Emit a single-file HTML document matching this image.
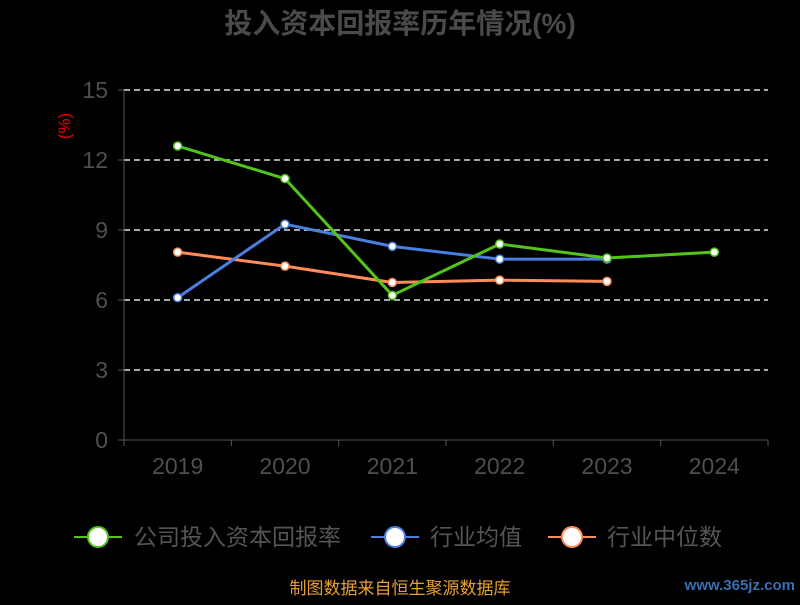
<!DOCTYPE html>
<html><head><meta charset="utf-8"><style>
body{margin:0;background:#000;width:800px;height:600px;overflow:hidden;font-family:"Liberation Sans","Noto Sans CJK SC",sans-serif}
</style></head><body>
<svg id="c" width="800" height="600" xmlns="http://www.w3.org/2000/svg">
<text x="400" y="33" text-anchor="middle" font-size="28" font-weight="bold" fill="#4a4a4a" font-family="Liberation Sans, Noto Sans CJK SC, sans-serif">投入资本回报率历年情况(%)</text>
<text transform="translate(70,126) rotate(-90)" text-anchor="middle" font-size="17" fill="#e00">(%)</text>
<g id="grid"></g><g id="axes"></g><g id="series"></g>
<g font-size="23" fill="#555" font-family="Liberation Sans, Noto Sans CJK SC, sans-serif">
<g><line x1="74" y1="537" x2="122" y2="537" stroke="#52c41a" stroke-width="2"/><circle cx="98" cy="537" r="10" fill="#fff" stroke="#52c41a" stroke-width="2"/><text x="134" y="545">公司投入资本回报率</text></g>
<g><line x1="371" y1="537" x2="419" y2="537" stroke="#4a7fe0" stroke-width="2"/><circle cx="395" cy="537" r="10" fill="#fff" stroke="#4a7fe0" stroke-width="2"/><text x="430" y="545">行业均值</text></g>
<g><line x1="548" y1="537" x2="596" y2="537" stroke="#ff8c5a" stroke-width="2"/><circle cx="572" cy="537" r="10" fill="#fff" stroke="#ff8c5a" stroke-width="2"/><text x="607" y="545">行业中位数</text></g>
</g>
<text x="400" y="594" text-anchor="middle" font-size="17" fill="#e8a030">制图数据来自恒生聚源数据库</text>
<text x="795" y="590" text-anchor="end" font-size="15" font-weight="bold" fill="#3a6fb0">www.365jz.com</text>
</svg>
<script>
const categories=["2019","2020","2021","2022","2023","2024"];
const yTicks=[0,3,6,9,12,15];
const company=[12.6,11.2,6.2,8.4,7.8,8.05];
const industryAvg=[6.1,9.25,8.3,7.75,7.75];
const industryMedian=[8.05,7.45,6.75,6.85,6.8];
const NS="http://www.w3.org/2000/svg";
const L=124,R=768,T=90,B=440,yMax=15;
const bw=(R-L)/categories.length;
const xS=i=>L+bw*(i+0.5);
const yS=v=>B-(v/yMax)*(B-T);
function mk(t,a,p){const e=document.createElementNS(NS,t);for(const k in a)e.setAttribute(k,a[k]);p.appendChild(e);return e;}
const grid=document.getElementById('grid'),axes=document.getElementById('axes'),ser=document.getElementById('series');
yTicks.forEach(v=>{
 if(v>0){const g=mk('line',{x1:L,x2:R,y1:yS(v),y2:yS(v),stroke:'#ddd','stroke-dasharray':'6,4','stroke-width':1.5},grid);
 
 }
 mk('line',{x1:L-6,x2:L,y1:yS(v),y2:yS(v),stroke:'#555'},axes);
 const t=mk('text',{x:L-16,y:yS(v)+8,'text-anchor':'end','font-size':23,fill:'#4f4f4f'},axes);t.textContent=v;
 
 
});
mk('line',{x1:L,x2:L,y1:T,y2:B,stroke:'#555'},axes);
mk('line',{x1:L,x2:R,y1:B,y2:B,stroke:'#555'},axes);
categories.forEach((c,i)=>{
 mk('line',{x1:L+bw*i,x2:L+bw*i,y1:B,y2:B+6,stroke:'#555'},axes);
 const t=mk('text',{x:xS(i),y:B+34,'text-anchor':'middle','font-size':23,fill:'#4f4f4f'},axes);t.textContent=c;
 
 
});
mk('line',{x1:R,x2:R,y1:B,y2:B+6,stroke:'#555'},axes);
function series(vals,color,name){
 const g=mk('g',{},ser);
 
 
 const p=mk('polyline',{points:vals.map((v,i)=>xS(i)+','+yS(v)).join(' '),fill:'none',stroke:color,'stroke-width':3},g);
 
 
 vals.forEach((v,i)=>{const c=mk('circle',{cx:xS(i),cy:yS(v),r:4,fill:'#fff',stroke:color,'stroke-width':1.5},g);
 
 });
}
series(industryMedian,'#ff8c5a','industry-median-series');
series(industryAvg,'#4a7fe0','industry-avg-series');
series(company,'#52c41a','company-series');
</script>
</body></html>
